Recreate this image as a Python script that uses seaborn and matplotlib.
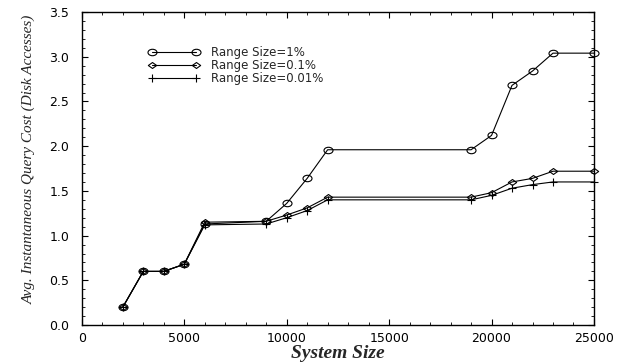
import matplotlib
matplotlib.use("Agg")
import matplotlib.pyplot as plt
import seaborn as sns
import pandas as pd
from matplotlib.ticker import MultipleLocator, FormatStrFormatter
from matplotlib.path import Path
from matplotlib.transforms import Affine2D

# data
system_size = [2000, 3000, 4000, 5000, 6000, 9000, 10000, 11000, 12000,
               19000, 20000, 21000, 22000, 23000, 25000]
cost_1 = [0.20, 0.60, 0.60, 0.68, 1.13, 1.16, 1.36, 1.64, 1.96,
          1.96, 2.12, 2.68, 2.84, 3.04, 3.04]
cost_01 = [0.20, 0.60, 0.60, 0.68, 1.15, 1.16, 1.23, 1.31, 1.43,
           1.43, 1.48, 1.60, 1.64, 1.72, 1.72]
cost_001 = [0.20, 0.60, 0.60, 0.68, 1.12, 1.13, 1.20, 1.28, 1.40,
            1.40, 1.45, 1.53, 1.57, 1.60, 1.60]
labels = ["Range Size=1%", "Range Size=0.1%", "Range Size=0.01%"]

sns.set_style("ticks")
plt.rcParams['font.family'] = ['DejaVu Sans']

# flattened markers (the original looks horizontally stretched)
ellipse = Path.unit_circle().transformed(Affine2D().scale(1.4, 1.0))
diamond = Path([(-1.4, 0), (0, 1), (1.4, 0), (0, -1), (-1.4, 0)],
               [Path.MOVETO, Path.LINETO, Path.LINETO, Path.LINETO, Path.CLOSEPOLY])

fig = plt.figure(figsize=(6.2, 3.64), dpi=100)
ax = fig.add_axes([0.132, 0.107, 0.826, 0.86])

series = [(cost_1, ellipse, 6.5), (cost_01, diamond, 6), (cost_001, '+', 6)]
for (vals, mk, ms), lab in zip(series, labels):
    df = pd.DataFrame({'x': system_size, 'y': vals})
    sns.lineplot(data=df, x='x', y='y', ax=ax, color='black', linewidth=0.8,
                 marker=mk, markersize=ms, markerfacecolor='none',
                 markeredgecolor='black', markeredgewidth=0.8, label=lab,
                 clip_on=False, zorder=3)

ax.set_xlim(0, 25000)
ax.set_ylim(0, 3.5)
ax.xaxis.set_major_locator(MultipleLocator(5000))
ax.xaxis.set_minor_locator(MultipleLocator(1000))
ax.yaxis.set_major_locator(MultipleLocator(0.5))
ax.yaxis.set_minor_locator(MultipleLocator(0.1))
ax.yaxis.set_major_formatter(FormatStrFormatter('%.1f'))
ax.tick_params(which='both', direction='in', top=True, right=True,
               labelsize=9, colors='black')
ax.tick_params(which='major', length=4, width=0.8)
ax.tick_params(which='minor', length=2, width=0.6)
ax.tick_params(axis='y', which='major', pad=9)
ax.tick_params(axis='x', which='major', pad=5)
for sp in ax.spines.values():
    sp.set_linewidth(1.0)
    sp.set_color('black')

ax.set_xlabel('System Size', family='Liberation Serif', style='italic',
              weight='bold', fontsize=14, labelpad=0)
ax.set_ylabel('Avg. Instantaneous Query Cost (Disk Accesses)',
              family='Liberation Serif', style='italic', fontsize=11,
              labelpad=3)
ax.yaxis.set_label_coords(-0.09, 0.53)

ax.legend(loc='upper left', bbox_to_anchor=(0.13, 0.89), frameon=False,
          numpoints=2, handlelength=4.3, handletextpad=1.0, labelspacing=0.0,
          fontsize=8.5, borderaxespad=0, borderpad=0)

fig.savefig('out.png', dpi=100)
